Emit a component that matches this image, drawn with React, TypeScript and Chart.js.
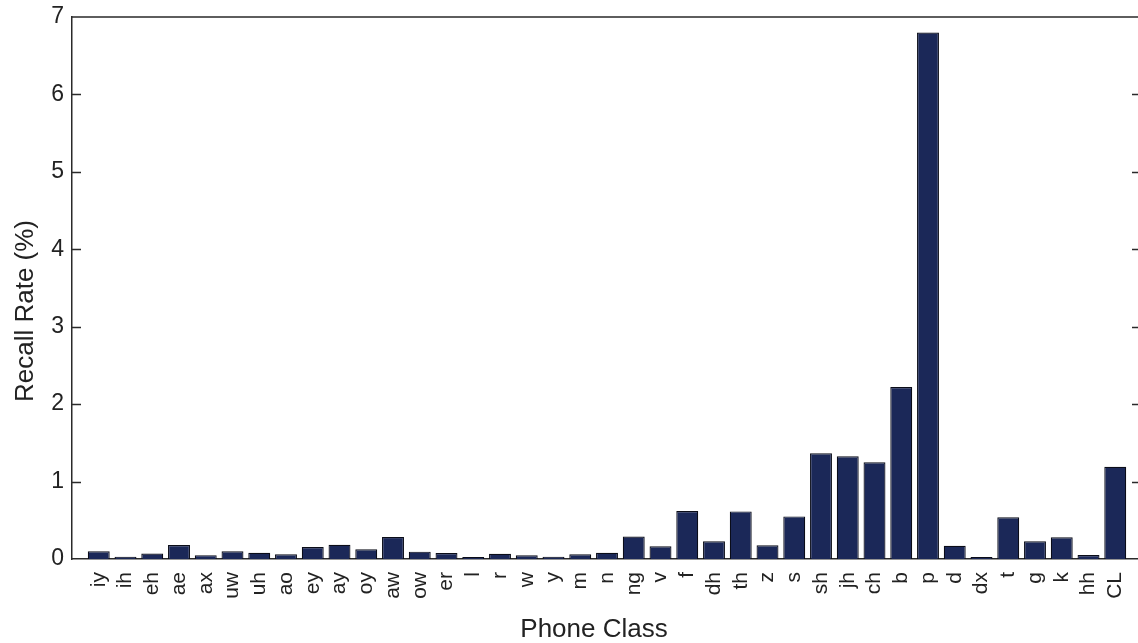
import React, { useEffect, useRef } from "react";
import { Chart, registerables } from "chart.js";

Chart.register(...registerables);

const categories = [
  "iy", "ih", "eh", "ae", "ax", "uw", "uh", "ao", "ey", "ay", "oy", "aw", "ow", "er",
  "l", "r", "w", "y", "m", "n", "ng", "v", "f", "dh", "th", "z", "s", "sh", "jh", "ch",
  "b", "p", "d", "dx", "t", "g", "k", "hh", "CL",
];

const recallRate = [
  0.1, 0.03, 0.07, 0.18, 0.05, 0.1, 0.08, 0.06, 0.155, 0.185, 0.125, 0.285, 0.095, 0.078,
  0.026, 0.068, 0.048, 0.03, 0.06, 0.08, 0.29, 0.165, 0.62, 0.23, 0.615, 0.177, 0.55, 1.365,
  1.327, 1.25, 2.22, 6.8, 0.17, 0.026, 0.54, 0.23, 0.28, 0.052, 1.19,
];

const yTicks = [0, 1, 2, 3, 4, 5, 6, 7];
const xTitle = "Phone Class";
const yTitle = "Recall Rate (%)";

const FONT = '"Liberation Sans", Arial, Helvetica, sans-serif';

const framePlugin = {
  id: "frame",
  afterDraw(chart: any) {
    const { ctx, chartArea } = chart;
    const y = chart.scales.y;
    ctx.save();
    ctx.strokeStyle = "#2a2a2a";
    ctx.lineWidth = 1.5;
    ctx.beginPath();
    ctx.moveTo(chartArea.left, chartArea.top);
    ctx.lineTo(chartArea.right, chartArea.top);
    ctx.lineTo(chartArea.right, chartArea.bottom);
    ctx.stroke();
    ctx.lineWidth = 1.3;
    yTicks.forEach((v) => {
      if (v === 0 || v === 7) return;
      const py = Math.round(y.getPixelForValue(v)) + 0.5;
      ctx.beginPath();
      ctx.moveTo(chartArea.left, py);
      ctx.lineTo(chartArea.left + 9, py);
      ctx.moveTo(chartArea.right, py);
      ctx.lineTo(chartArea.right - 10, py);
      ctx.stroke();
    });
    ctx.fillStyle = "#222";
    ctx.font = `26px ${FONT}`;
    ctx.textAlign = "center";
    ctx.textBaseline = "alphabetic";
    ctx.fillText(xTitle, 594, 637);
    ctx.translate(33, 311);
    ctx.rotate(-Math.PI / 2);
    ctx.fillText(yTitle, 0, 0);
    ctx.restore();
  },
};

export default function App() {
  const ref = useRef<HTMLCanvasElement | null>(null);

  useEffect(() => {
    if (!ref.current) return;
    const chart = new Chart(ref.current, {
      type: "bar",
      data: {
        datasets: [
          {
            data: recallRate.map((v, i) => ({ x: i + 1, y: v })),
            backgroundColor: "#1b2858",
            borderColor: "#0b0d18",
            borderWidth: 1.2,
            barPercentage: 0.82,
            categoryPercentage: 1,
          },
        ],
      },
      options: {
        animation: false,
        responsive: false,
        maintainAspectRatio: false,
        devicePixelRatio: 1,
        layout: { padding: { left: 0, top: 17, right: 8, bottom: 0 } },
        plugins: { legend: { display: false }, tooltip: { enabled: false } },
        scales: {
          x: {
            type: "linear",
            min: 0,
            max: categories.length + 1,
            offset: false,
            grid: { display: false, drawTicks: false },
            border: { display: true, color: "#2a2a2a", width: 1.5 },
            afterBuildTicks: (scale: any) => {
              scale.ticks = categories.map((_, i) => ({ value: i + 1 }));
            },
            afterFit: (scale: any) => {
              scale.height = 84;
              scale.paddingLeft = 0;
              scale.paddingRight = 0;
            },
            ticks: {
              autoSkip: false,
              maxRotation: 90,
              minRotation: 90,
              padding: 13,
              color: "#222",
              font: { family: FONT, size: 21 },
              callback: (v: any) => categories[Number(v) - 1] ?? "",
            },
          },
          y: {
            min: 0,
            max: 7,
            grid: { display: false, drawTicks: false },
            border: { display: true, color: "#2a2a2a", width: 1.5 },
            afterBuildTicks: (scale: any) => {
              scale.ticks = yTicks.map((v) => ({ value: v }));
            },
            afterFit: (scale: any) => {
              scale.width = 72;
              scale.paddingTop = 0;
              scale.paddingBottom = 0;
            },
            ticks: {
              padding: 8,
              color: "#222",
              font: { family: FONT, size: 23 },
            },
          },
        },
      },
      plugins: [framePlugin],
    } as any);
    return () => chart.destroy();
  }, []);

  return (
    <div
      style={{
        position: "absolute",
        left: 0,
        top: 0,
        width: 1138,
        height: 643,
        overflow: "hidden",
        background: "#fff",
      }}
    >
      <canvas ref={ref} width={1150} height={643} style={{ display: "block" }} />
    </div>
  );
}
